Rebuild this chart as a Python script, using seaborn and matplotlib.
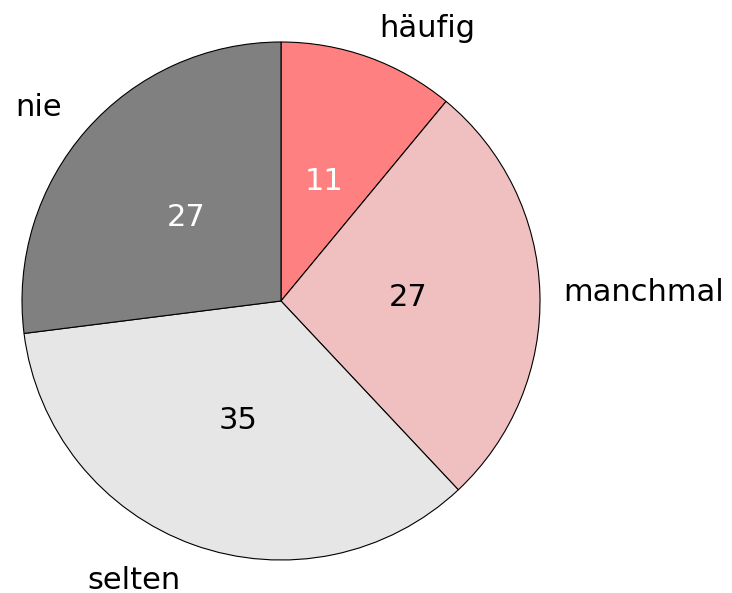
import matplotlib
matplotlib.use("Agg")
import matplotlib.pyplot as plt
import numpy as np
import seaborn as sns

categories = ["häufig", "manchmal", "selten", "nie"]
values = [11, 27, 35, 27]
slice_colors = ["#FF8080", "#F0C0C0", "#E6E6E6", "#808080"]
value_text_colors = ["white", "black", "black", "white"]
label_distances = [1.12, 1.09, 1.145, 1.13]

sns.set_theme(style="white")
plt.rcParams["font.family"] = ["DejaVu Sans"]

W, H, DPI = 732, 593, 100
fig = plt.figure(figsize=(W / DPI, H / DPI), dpi=DPI)
cx, cy, r = 281, 301, 259
ax = fig.add_axes([(cx - r) / W, (H - cy - r) / H, 2 * r / W, 2 * r / H])

wedges, texts, autotexts = ax.pie(
    values,
    labels=categories,
    colors=slice_colors,
    startangle=90,
    counterclock=False,
    autopct=lambda p: f"{p:.0f}",
    pctdistance=0.49,
    labeldistance=1.1,
    radius=1.0,
    wedgeprops=dict(edgecolor="black", linewidth=0.8),
    textprops=dict(fontsize=22, color="black"),
)
for t, c in zip(autotexts, value_text_colors):
    t.set_color(c)
    t.set_fontsize(22)

# place each category label at its own distance along the wedge's mid angle
for w, t, d in zip(wedges, texts, label_distances):
    ang = np.deg2rad((w.theta1 + w.theta2) / 2)
    t.set_position((d * np.cos(ang), d * np.sin(ang)))

ax.set_xlim(-1, 1)
ax.set_ylim(-1, 1)
ax.set_aspect("equal")
ax.axis("off")

fig.savefig("out.png", dpi=DPI, facecolor="white")
